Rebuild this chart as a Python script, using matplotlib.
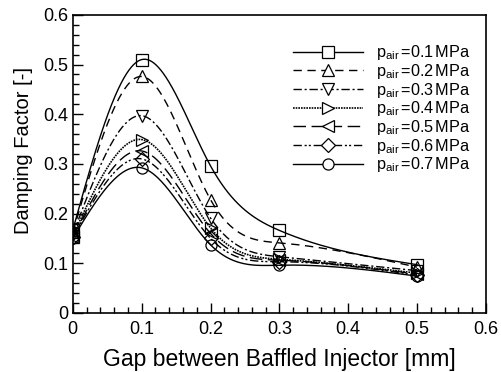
import numpy as np
import matplotlib
matplotlib.use("Agg")
import matplotlib.pyplot as plt
from matplotlib.ticker import MultipleLocator, FuncFormatter

plt.rcParams['font.family'] = ['Liberation Sans', 'DejaVu Sans']
plt.rcParams['mathtext.fontset'] = 'custom'
plt.rcParams['mathtext.rm'] = 'Liberation Sans'
plt.rcParams['mathtext.it'] = 'Liberation Sans:italic'

# Gap between baffled injectors [mm]
gap = [0.0, 0.1, 0.2, 0.3, 0.5]

# Damping factor for each air pressure
pressures = ["0.1", "0.2", "0.3", "0.4", "0.5", "0.6", "0.7"]
damping_01 = [0.167, 0.510, 0.296, 0.166, 0.097]
damping_02 = [0.162, 0.476, 0.228, 0.141, 0.092]
damping_03 = [0.158, 0.397, 0.191, 0.113, 0.085]
damping_04 = [0.155, 0.349, 0.171, 0.108, 0.080]
damping_05 = [0.153, 0.326, 0.160, 0.106, 0.078]
damping_06 = [0.152, 0.310, 0.150, 0.103, 0.076]
damping_07 = [0.150, 0.292, 0.137, 0.096, 0.074]
series = [damping_01, damping_02, damping_03, damping_04,
          damping_05, damping_06, damping_07]

markers = ['s', '^', 'v', '>', '<', 'D', 'o']
marker_sizes = [8, 9, 9, 9, 9, 7, 8]
linestyles = ['-', (0, (6, 4)), (0, (6, 2, 1.5, 2)), (0, (1, 0.6)),
              (0, (9, 4)), (0, (6, 2, 1.5, 1.5, 1.5, 2)), '-']
linewidths = [1.0, 1.0, 1.0, 1.2, 1.0, 1.0, 1.0]


def natural_spline(x, y, xs):
    x = np.asarray(x, float)
    y = np.asarray(y, float)
    n = len(x)
    h = np.diff(x)
    A = np.zeros((n, n))
    b = np.zeros(n)
    A[0, 0] = 1.0
    A[-1, -1] = 1.0
    for i in range(1, n - 1):
        A[i, i - 1] = h[i - 1]
        A[i, i] = 2 * (h[i - 1] + h[i])
        A[i, i + 1] = h[i]
        b[i] = 6 * ((y[i + 1] - y[i]) / h[i] - (y[i] - y[i - 1]) / h[i - 1])
    M = np.linalg.solve(A, b)
    out = np.empty_like(xs)
    for k, t in enumerate(xs):
        i = min(max(np.searchsorted(x, t) - 1, 0), n - 2)
        a = x[i + 1] - t
        c = t - x[i]
        out[k] = (M[i] * a ** 3 / (6 * h[i]) + M[i + 1] * c ** 3 / (6 * h[i])
                  + (y[i] / h[i] - M[i] * h[i] / 6) * a
                  + (y[i + 1] / h[i] - M[i + 1] * h[i] / 6) * c)
    return out


fig = plt.figure(figsize=(5.02, 3.72), dpi=100)
ax = fig.add_axes([0.145, 0.159, 0.823, 0.801])

xs = np.linspace(gap[0], gap[-1], 400)
for vals, p, m, ms, ls, lw in zip(series, pressures, markers, marker_sizes,
                                  linestyles, linewidths):
    ax.plot(xs, natural_spline(gap, vals, xs), color='black', ls=ls, lw=lw)
    ax.plot(gap, vals, ls='none', marker=m, ms=ms, mfc='none',
            mec='black', mew=0.9)
    ax.plot([], [], color='black', ls=ls, lw=lw, marker=m, ms=ms,
            mfc='white', mec='black', mew=0.9,
            label=r'p$_{\mathrm{air}}\,$=' + p + r'$\,$MPa')

ax.set_xlim(0, 0.6)
ax.set_ylim(0, 0.6)
fmt = FuncFormatter(lambda v, _: '0' if abs(v) < 1e-9 else f'{v:.1f}')
for axis in (ax.xaxis, ax.yaxis):
    axis.set_major_locator(MultipleLocator(0.1))
    axis.set_minor_locator(MultipleLocator(0.02))
    axis.set_major_formatter(fmt)
ax.tick_params(which='both', direction='in', top=False, right=False,
               labelsize=13, width=1.0)
ax.tick_params(which='major', length=7)
ax.tick_params(which='minor', length=4)
ax.tick_params(axis='x', which='major', pad=6)
ax.tick_params(axis='y', which='major', pad=3)
for s in ax.spines.values():
    s.set_linewidth(1.2)

ax.set_xlabel('Gap between Baffled Injector [mm]', fontsize=16.5, labelpad=7)
ax.set_ylabel('Damping Factor [-]', fontsize=14.5)
ax.yaxis.set_label_coords(-0.097, 0.544)

leg = ax.legend(loc='upper left', bbox_to_anchor=(282 / 502, 1 - 32 / 372),
                bbox_transform=fig.transFigure, frameon=False, fontsize=11.7,
                handlelength=4.3, handletextpad=0.8, labelspacing=-0.02,
                borderpad=0.2)

fig.savefig('out.png', dpi=100)
